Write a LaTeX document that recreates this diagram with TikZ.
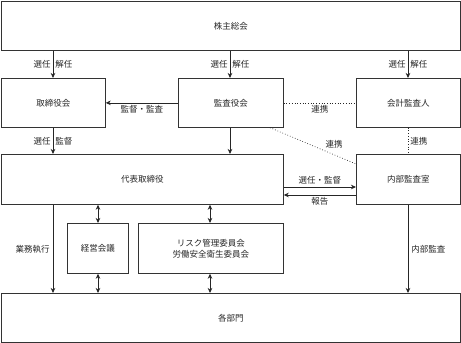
\documentclass[tikz,border=0pt]{standalone}
\usepackage{fontspec}
\setmainfont{Noto Sans CJK JP}
\usetikzlibrary{arrows.meta, positioning, calc}

\begin{document}
\begin{tikzpicture}[
    x=1pt, y=-1pt,
    % Node styles
    box/.style={
        rectangle, anchor=north west, inner sep=0pt,
        draw=black!80, line width=0.7pt,
        align=center, font=\fontsize{8.5}{11}\selectfont,
        text=black!85,
    },
    lbl/.style={
        font=\fontsize{8.5}{10}\selectfont, text=black!85,
        inner sep=2pt,
    },
    line/.style={
        draw=black!85, line width=0.7pt,
        -{Stealth[length=5pt, width=4.5pt, inset=1.5pt]},
    },
    both/.style={
        draw=black!85, line width=0.7pt,
        {Stealth[length=5pt, width=4.5pt, inset=1.5pt]}-{Stealth[length=5pt, width=4.5pt, inset=1.5pt]},
    },
    link/.style={
        draw=black!85, line width=0.7pt, dotted,
    },
]

\useasboundingbox (0,0) rectangle (461,343);

% === Boxes ===
\node[box, minimum width=459pt, minimum height=49pt] (shr)  at (1,1)     {株主総会};
\node[box, minimum width=104pt, minimum height=49pt] (bod)  at (1,78)    {取締役会};
\node[box, minimum width=105pt, minimum height=49pt] (kan)  at (178,78)  {監査役会};
\node[box, minimum width=104pt, minimum height=49pt] (acc)  at (356,78)  {会計監査人};
\node[box, minimum width=282pt, minimum height=50pt] (ceo)  at (1,154)   {代表取締役};
\node[box, minimum width=104pt, minimum height=50pt] (aud)  at (356,154) {内部監査室};
\node[box, minimum width=61pt,  minimum height=50pt] (mtg)  at (67,223)  {経営会議};
\node[box, minimum width=145pt, minimum height=50pt] (risk) at (138,223) {リスク管理委員会\\労働安全衛生委員会};
\node[box, minimum width=459pt, minimum height=49pt] (dept) at (1,293)   {各部門};

% === Columns and rows for the connectors ===
\coordinate (c1) at (53,0);
\coordinate (c2) at (230,0);
\coordinate (c3) at (408,0);
\coordinate (c4) at (98,0);
\coordinate (c5) at (210,0);
\coordinate (c6) at (270,0);
\coordinate (r1) at (0,164);
\coordinate (r2) at (0,187);
\coordinate (r3) at (0,195);

% === Shareholders to level 2 ===
\draw[line] (shr.south -| c1) -- (bod.north -| c1)
    node[lbl, midway, left=0pt] {選任} node[lbl, midway, right=0pt] {解任};
\draw[line] (shr.south -| c2) -- (kan.north -| c2)
    node[lbl, midway, left=0pt] {選任} node[lbl, midway, right=0pt] {解任};
\draw[line] (shr.south -| c3) -- (acc.north -| c3)
    node[lbl, midway, left=0pt] {選任} node[lbl, midway, right=0pt] {解任};

% === Level 2 ===
\draw[line] (kan.west) -- (bod.east)
    node[lbl, midway, below=0pt] {監督・監査};
\draw[link] (kan.east) -- (acc.west)
    node[lbl, midway, below=0pt] {連携};

% === Level 2 to level 3 ===
\draw[line] (bod.south -| c1) -- (ceo.north -| c1)
    node[lbl, midway, left=0pt] {選任} node[lbl, midway, right=0pt] {監督};
\draw[line] (kan.south -| c2) -- (ceo.north -| c2);
\draw[link] (kan.south -| c6) -- (aud.west |- r1)
    node[lbl, pos=0.62, above right=0pt] {連携};
\draw[link] (acc.south -| c3) -- (aud.north -| c3)
    node[lbl, midway, right=0pt] {連携};

% === CEO and internal audit ===
\draw[line] (ceo.east |- r2) -- (aud.west |- r2)
    node[lbl, midway, above=0pt] {選任・監督};
\draw[line] (aud.west |- r3) -- (ceo.east |- r3)
    node[lbl, midway, below=0pt] {報告};

% === Committees ===
\draw[both] (ceo.south -| c4) -- (mtg.north -| c4);
\draw[both] (mtg.south -| c4) -- (dept.north -| c4);
\draw[both] (ceo.south -| c5) -- (risk.north -| c5);
\draw[both] (risk.south -| c5) -- (dept.north -| c5);

% === To departments ===
\draw[line] (ceo.south -| c1) -- (dept.north -| c1)
    node[lbl, midway, left=1pt] {業務執行};
\draw[line] (aud.south -| c3) -- (dept.north -| c3)
    node[lbl, midway, right=1pt] {内部監査};

\end{tikzpicture}
\end{document}
